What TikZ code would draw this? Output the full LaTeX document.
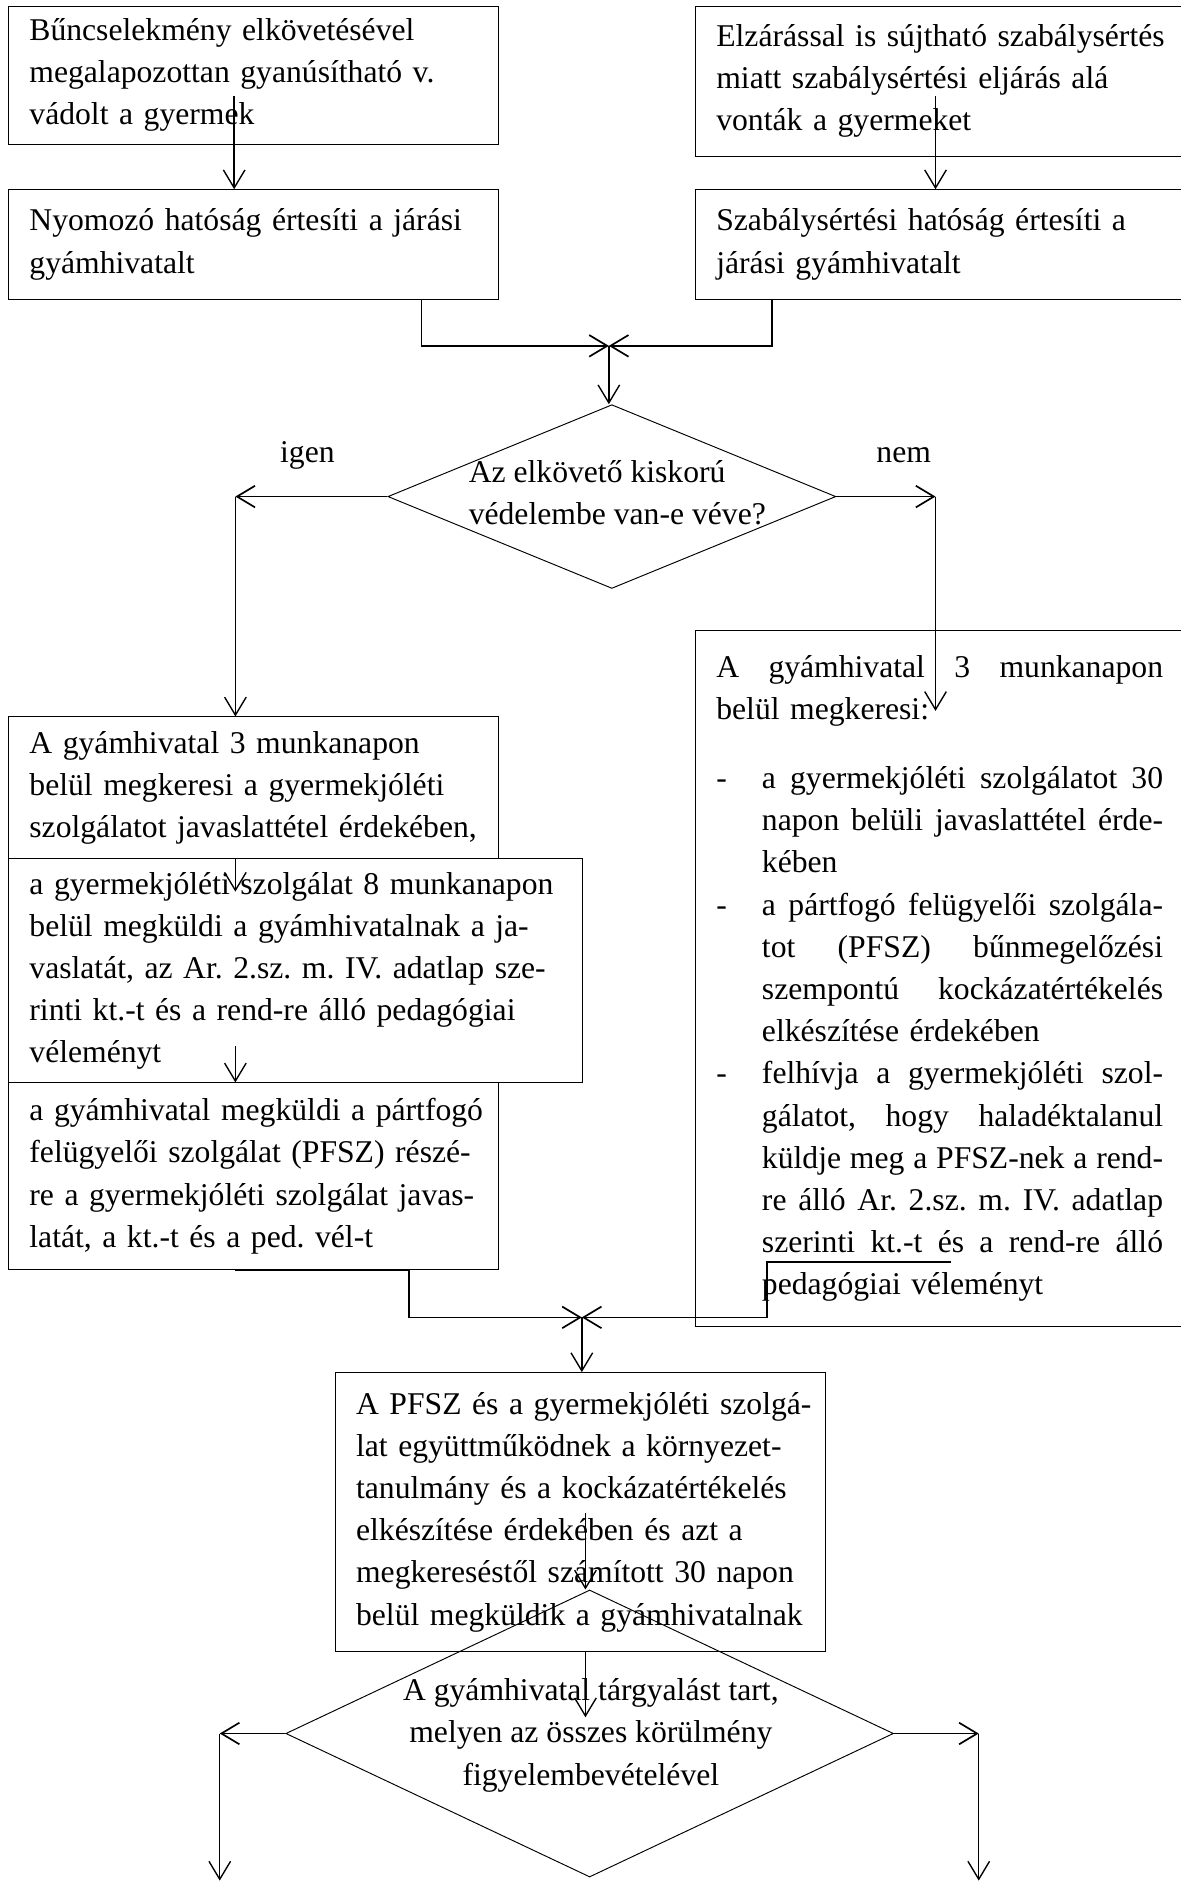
\documentclass[tikz,border=0pt]{standalone}
\usepackage{fontspec}
\setmainfont{Liberation Serif}
\usepackage{tikz}
\usetikzlibrary{shapes.geometric,arrows.meta}
\frenchspacing

\newcommand{\teljes}[1]{\leavevmode\hbox to 74.4mm{\spaceskip=0.25em plus 1fil\relax #1}}
\newcommand{\pont}[1]{\leavevmode\hbox to 7.6mm{-\hfil}\hbox to 66.8mm{\spaceskip=0.25em plus 1fil\relax #1}}
\newcommand{\folyt}[1]{\leavevmode\hbox to 7.6mm{\hfil}\hbox to 66.8mm{\spaceskip=0.25em plus 1fil\relax #1}}
\newcommand{\vege}[1]{\leavevmode\hbox to 7.6mm{\hfil}#1}

\begin{document}
\begin{tikzpicture}[every node/.style={font=\fontsize{15}{20}\selectfont},
	box/.style={shape=rectangle,draw=black,line width=0.45pt,align=left,inner xsep=0.35cm,inner ysep=0pt,minimum width=8.16cm,text width=7.46cm,
		execute at begin node={\rightskip=0pt plus 1fil minus 1cm\relax}},
	dontes/.style={shape=diamond,draw=black,line width=0.45pt,inner sep=0pt},
	felirat/.style={inner sep=0pt},
	arr/.style={-{Straight Barb[length=3mm,width=3.6mm]},line width=0.65pt},
	conn/.style={-{Straight Barb[length=3mm,width=3.6mm]},line width=0.8pt}]
	\useasboundingbox (0,0) rectangle (19.66,-31.36);
	% felso sor
	\node[box,minimum height=2.30cm] (bunc)  at (4.22, -1.25)  {Bűncselekmény elkövetésével\\megalapozottan gyanúsítható v.\\vádolt a gyermek};
	\node[box,minimum height=2.50cm] (elzar) at (15.66, -1.35) {Elzárással is sújtható szabálysértés\\miatt szabálysértési eljárás alá\\vonták a gyermeket};
	\node[box,minimum height=1.82cm] (nyom)  at (4.22, -4.07)  {Nyomozó hatóság értesíti a járási\\gyámhivatalt};
	\node[box,minimum height=1.82cm] (szab)  at (15.66, -4.07) {Szabálysértési hatóság értesíti a\\járási gyámhivatalt};
	\coordinate (a1) at (3.90, -1.60);
	\coordinate (a2) at (15.58, -1.60);
	\coordinate (m1) at (10.14, -5.76);
	\path[arr] (a1) edge (a1 |- nyom.north);
	\path[arr] (a2) edge (a2 |- szab.north);
	\draw[conn] (a1 |- nyom.south) -- ++(3.12,0) |- (m1);
	\draw[conn] (a2 |- szab.south) -- ++(-2.72,0) |- (m1);

	% vedelembe vetel
	\node[dontes,minimum width=7.46cm,minimum height=3.06cm] (vedel) at (10.19, -8.27) {};
	\node[felirat,align=left,anchor=west] (vedeltxt) at (7.80, -8.21) {Az elkövető kiskorú\\védelembe van-e véve?};
	\node[felirat] (igen) at (5.12, -7.58) {igen};
	\node[felirat] (nem)  at (15.05, -7.58) {nem};
	\path[arr] (m1) edge (m1 |- vedel.north);
	\coordinate (igenc) at (3.92, -8.27);
	\coordinate (nemc) at (15.58, -8.27);
	\coordinate (nemend) at (15.58, -11.84);
	\draw[conn] (vedel.west) -- (igenc);
	\draw[conn] (vedel.east) -- (nemc);

	% bal oldal
	\node[box,minimum height=2.36cm] (gyam3) at (4.22, -13.12) {A gyámhivatal 3 munkanapon\\belül megkeresi a gyermekjóléti\\szolgálatot javaslattétel érdekében,};
	\node[box,minimum height=3.73cm,minimum width=9.56cm,text width=8.86cm] (gyjsz) at (4.92, -16.17) {a gyermekjóléti szolgálat 8 munkanapon\\belül megküldi a gyámhivatalnak a ja-\\vaslatát, az Ar. 2.sz. m. IV. adatlap sze-\\rinti kt.-t és a rend-re álló pedagógiai\\véleményt};
	\node[box,minimum height=3.11cm] (pfsz) at (4.22, -19.59) {a gyámhivatal megküldi a pártfogó\\felügyelői szolgálat (PFSZ) részé-\\re a gyermekjóléti szolgálat javas-\\latát, a kt.-t és a ped. vél-t};
	\path[arr] (igenc) edge (igenc |- gyam3.north);
	\coordinate (a3) at (3.92, -14.85);
	\coordinate (a4) at (3.92, -17.42);
	\path[arr] (a3 |- gyam3.south) edge (a3);
	\path[arr] (a4) edge (a4 |- pfsz.north);

	% jobb oldal
	\node[box,minimum height=11.59cm] (megker) at (15.66, -16.30) {\teljes{A gyámhivatal 3 munkanapon}\\
		belül megkeresi:\\[0.44cm]
		\pont{a gyermekjóléti szolgálatot 30}\\
		\folyt{napon belüli javaslattétel érde-}\\
		\vege{kében}\\
		\pont{a pártfogó felügyelői szolgála-}\\
		\folyt{tot (PFSZ) bűnmegelőzési}\\
		\folyt{szempontú kockázatértékelés}\\
		\vege{elkészítése érdekében}\\
		\pont{felhívja a gyermekjóléti szol-}\\
		\folyt{gálatot, hogy haladéktalanul}\\
		\folyt{küldje meg a PFSZ-nek a rend-}\\
		\folyt{re álló Ar. 2.sz. m. IV. adatlap}\\
		\folyt{szerinti kt.-t és a rend-re álló}\\
		\vege{pedagógiai véleményt}};
	\path[arr] (nemc) edge (nemend);

	% osszefutas
	\coordinate (m2) at (9.69, -21.94);
	\coordinate (rstart) at (15.84, -21.02);
	\draw[conn] (a4 |- pfsz.south) -- ++(2.89,0) |- (m2);
	\draw[conn] (rstart) -- ++(-3.07,0) |- (m2);

	% also resz
	\node[box,minimum height=4.64cm] (egyutt) at (9.66, -25.18) {A PFSZ és a gyermekjóléti szolgá-\\lat együttműködnek a környezet-\\tanulmány és a kockázatértékelés\\elkészítése érdekében és azt a\\megkereséstől számított 30 napon\\belül megküldik a gyámhivatalnak};
	\path[arr] (m2) edge (m2 |- egyutt.north);
	\node[dontes,minimum width=10.12cm,minimum height=4.78cm] (targy) at (9.82, -28.87) {};
	\node[felirat,align=center] (targytxt) at (9.84, -28.90) {A gyámhivatal tárgyalást tart,\\melyen az összes körülmény\\figyelembevételével};
	\coordinate (a5) at (9.75, -25.20);
	\coordinate (a6) at (9.75, -28.60);
	\path[arr] (a5) edge (a5 |- targy.north);
	\path[arr] (a6 |- egyutt.south) edge (a6);
	\coordinate (tl) at (3.66, -28.87);
	\coordinate (tr) at (16.30, -28.87);
	\coordinate (tlend) at (3.66, -31.32);
	\coordinate (trend) at (16.30, -31.32);
	\draw[conn] (targy.west) -- (tl);
	\draw[conn] (targy.east) -- (tr);
	\path[arr] (tl) edge (tlend);
	\path[arr] (tr) edge (trend);
\end{tikzpicture}
\end{document}
